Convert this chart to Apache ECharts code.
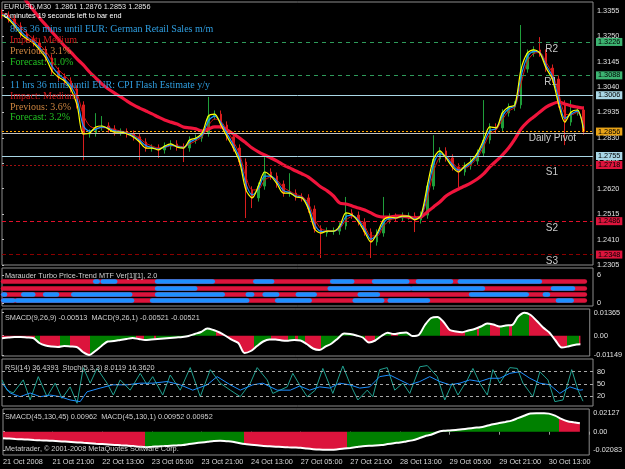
<!DOCTYPE html>
<html><head><meta charset="utf-8">
<script src="https://cdn.jsdelivr.net/npm/echarts@6/dist/echarts.min.js"></script>
<style>html,body{margin:0;padding:0;background:#000;}#c{width:625px;height:469px;}</style>
</head><body><div id="c"></div>
<script>
// ---------------- DATA ----------------
const timeTicks = ['21 Oct 2008','21 Oct 21:00','22 Oct 13:00','23 Oct 05:00','23 Oct 21:00','24 Oct 13:00','27 Oct 05:00','27 Oct 21:00','28 Oct 13:00','29 Oct 05:00','29 Oct 21:00','30 Oct 13:00'];
const priceTicks = [1.2305,1.2410,1.2515,1.2620,1.2725,1.2830,1.2935,1.3040,1.3145,1.3250,1.3355];

// 2-hour slots, EURUSD
const opens = [1.3345,1.3337,1.3321,1.3292,1.3259,1.3238,1.3222,1.3193,1.3160,1.3106,
 1.3081,1.3065,1.3032,1.2966,1.2846,1.2850,1.2875,1.2879,1.2867,1.2854,
 1.2854,1.2846,1.2834,1.2813,1.2788,1.2788,1.2780,1.2796,1.2805,1.2792,
 1.2788,1.2821,1.2829,1.2850,1.2920,1.2928,1.2883,1.2834,1.2788,1.2730,
 1.2615,1.2582,1.2631,1.2689,1.2672,1.2639,1.2602,1.2602,1.2586,1.2582,
 1.2536,1.2454,1.2437,1.2445,1.2445,1.2466,1.2520,1.2511,1.2483,1.2441,
 1.2400,1.2437,1.2491,1.2503,1.2499,1.2507,1.2507,1.2491,1.2511,1.2631,
 1.2743,1.2776,1.2747,1.2710,1.2689,1.2714,1.2734,1.2767,1.2821,1.2875,
 1.2871,1.2933,1.2957,1.2966,1.3114,1.3180,1.3193,1.3180,1.3118,1.3073,
 1.2970,1.2895,1.2937,1.2945];
const closes = [1.3337,1.3321,1.3292,1.3259,1.3238,1.3222,1.3193,1.3160,1.3106,1.3081,
 1.3065,1.3032,1.2966,1.2846,1.2850,1.2875,1.2879,1.2867,1.2854,1.2854,
 1.2846,1.2834,1.2813,1.2788,1.2788,1.2780,1.2796,1.2805,1.2792,1.2788,
 1.2821,1.2829,1.2850,1.2920,1.2928,1.2883,1.2834,1.2788,1.2730,1.2615,
 1.2582,1.2631,1.2689,1.2672,1.2639,1.2602,1.2602,1.2586,1.2582,1.2536,
 1.2454,1.2437,1.2445,1.2445,1.2466,1.2520,1.2511,1.2483,1.2441,1.2400,
 1.2437,1.2491,1.2503,1.2499,1.2507,1.2507,1.2491,1.2511,1.2631,1.2743,
 1.2776,1.2747,1.2710,1.2689,1.2714,1.2734,1.2767,1.2821,1.2875,1.2871,
 1.2933,1.2957,1.2966,1.3114,1.3180,1.3193,1.3180,1.3118,1.3073,1.2970,
 1.2895,1.2937,1.2945,1.2856];
const highs = [1.3360,1.3352,1.3336,1.3307,1.3274,1.3253,1.3237,1.3208,1.3175,1.3121,
 1.3096,1.3080,1.3047,1.2981,1.2865,1.2932,1.2920,1.2894,1.2882,1.2869,
 1.2869,1.2861,1.2849,1.2828,1.2803,1.2803,1.2811,1.2820,1.2820,1.2807,
 1.2836,1.2844,1.2865,1.2999,1.2943,1.2943,1.2898,1.2849,1.2803,1.2745,
 1.2630,1.2646,1.2750,1.2704,1.2687,1.2654,1.2684,1.2617,1.2601,1.2597,
 1.2551,1.2469,1.2460,1.2460,1.2481,1.2586,1.2535,1.2526,1.2498,1.2456,
 1.2452,1.2586,1.2518,1.2518,1.2522,1.2522,1.2522,1.2526,1.2646,1.2841,
 1.2791,1.2791,1.2762,1.2725,1.2729,1.2749,1.2782,1.2986,1.2890,1.2890,
 1.2948,1.2972,1.2981,1.3296,1.3195,1.3208,1.3246,1.3195,1.3133,1.3088,
 1.2985,1.2986,1.2960,1.2960];
const lows = [1.3322,1.3306,1.3277,1.3244,1.3223,1.3207,1.3178,1.3145,1.3091,1.3066,
 1.3050,1.3017,1.2951,1.2738,1.2831,1.2835,1.2860,1.2852,1.2839,1.2839,
 1.2831,1.2819,1.2738,1.2773,1.2773,1.2747,1.2765,1.2781,1.2777,1.2730,
 1.2773,1.2806,1.2814,1.2835,1.2905,1.2868,1.2819,1.2773,1.2715,1.2499,
 1.2540,1.2567,1.2616,1.2657,1.2624,1.2587,1.2587,1.2571,1.2567,1.2521,
 1.2439,1.2334,1.2422,1.2430,1.2430,1.2451,1.2496,1.2468,1.2426,1.2334,
 1.2385,1.2422,1.2476,1.2484,1.2484,1.2492,1.2441,1.2476,1.2496,1.2616,
 1.2728,1.2732,1.2695,1.2627,1.2674,1.2699,1.2719,1.2752,1.2806,1.2850,
 1.2856,1.2918,1.2942,1.2951,1.3099,1.3165,1.3165,1.3103,1.3058,1.2955,
 1.2800,1.2880,1.2922,1.2843];
const maYellow = [1.3337,1.3321,1.3292,1.3259,1.3238,1.3222,1.3193,1.3160,1.3106,1.3081,
 1.3065,1.3032,1.2966,1.2846,1.2850,1.2875,1.2879,1.2867,1.2854,1.2854,
 1.2846,1.2834,1.2813,1.2788,1.2788,1.2780,1.2796,1.2805,1.2792,1.2788,
 1.2821,1.2829,1.2850,1.2920,1.2928,1.2883,1.2834,1.2788,1.2730,1.2615,
 1.2582,1.2631,1.2689,1.2672,1.2639,1.2602,1.2602,1.2586,1.2582,1.2536,
 1.2454,1.2437,1.2445,1.2445,1.2466,1.2520,1.2511,1.2483,1.2441,1.2400,
 1.2437,1.2491,1.2503,1.2499,1.2507,1.2507,1.2491,1.2511,1.2631,1.2743,
 1.2776,1.2747,1.2710,1.2689,1.2714,1.2734,1.2767,1.2821,1.2875,1.2871,
 1.2933,1.2957,1.2966,1.3114,1.3180,1.3193,1.3180,1.3118,1.3073,1.2970,
 1.2895,1.2937,1.2945,1.2858];
const maBlue = [1.3340,1.3326,1.3300,1.3270,1.3246,1.3228,1.3202,1.3172,1.3125,1.3094,
 1.3072,1.3045,1.2990,1.2880,1.2858,1.2866,1.2874,1.2870,1.2859,1.2855,
 1.2849,1.2838,1.2820,1.2798,1.2790,1.2784,1.2792,1.2800,1.2795,1.2790,
 1.2812,1.2825,1.2842,1.2900,1.2920,1.2893,1.2847,1.2800,1.2745,1.2640,
 1.2595,1.2620,1.2672,1.2672,1.2648,1.2612,1.2604,1.2590,1.2584,1.2548,
 1.2472,1.2444,1.2444,1.2444,1.2460,1.2505,1.2510,1.2490,1.2452,1.2412,
 1.2430,1.2478,1.2498,1.2499,1.2505,1.2506,1.2495,1.2507,1.2605,1.2720,
 1.2765,1.2752,1.2720,1.2697,1.2708,1.2727,1.2758,1.2808,1.2860,1.2868,
 1.2920,1.2950,1.2962,1.3085,1.3165,1.3187,1.3182,1.3130,1.3085,1.2992,
 1.2910,1.2928,1.2940,1.2870];
const maRedThin = [1.3345,1.3335,1.3312,1.3285,1.3260,1.3240,1.3215,1.3188,1.3148,1.3112,
 1.3088,1.3060,1.3015,1.2925,1.2880,1.2870,1.2872,1.2872,1.2864,1.2858,
 1.2853,1.2843,1.2828,1.2808,1.2796,1.2788,1.2790,1.2797,1.2797,1.2793,
 1.2805,1.2818,1.2835,1.2880,1.2908,1.2898,1.2862,1.2815,1.2762,1.2670,
 1.2615,1.2617,1.2655,1.2668,1.2655,1.2625,1.2610,1.2596,1.2588,1.2560,
 1.2495,1.2455,1.2447,1.2445,1.2455,1.2490,1.2505,1.2495,1.2465,1.2425,
 1.2425,1.2465,1.2490,1.2497,1.2502,1.2505,1.2498,1.2504,1.2580,1.2690,
 1.2750,1.2755,1.2730,1.2705,1.2705,1.2720,1.2748,1.2793,1.2845,1.2862,
 1.2905,1.2940,1.2957,1.3055,1.3145,1.3178,1.3182,1.3142,1.3098,1.3015,
 1.2930,1.2925,1.2935,1.2885];
const maSlow = [1.3523,1.3490,1.3457,1.3424,1.3391,1.3358,1.3325,1.3296,1.3267,1.3238,
 1.3209,1.3184,1.3156,1.3131,1.3102,1.3077,1.3052,1.3032,1.3015,1.2999,
 1.2982,1.2966,1.2953,1.2941,1.2929,1.2916,1.2904,1.2895,1.2887,1.2875,
 1.2871,1.2867,1.2858,1.2867,1.2875,1.2875,1.2862,1.2846,1.2829,1.2809,
 1.2788,1.2772,1.2759,1.2747,1.2734,1.2718,1.2706,1.2693,1.2681,1.2668,
 1.2648,1.2627,1.2611,1.2590,1.2561,1.2557,1.2549,1.2540,1.2532,1.2520,
 1.2507,1.2503,1.2503,1.2507,1.2507,1.2503,1.2499,1.2503,1.2524,1.2545,
 1.2565,1.2590,1.2606,1.2619,1.2631,1.2644,1.2660,1.2681,1.2710,1.2734,
 1.2759,1.2788,1.2825,1.2867,1.2895,1.2916,1.2937,1.2957,1.2970,1.2978,
 1.2970,1.2962,1.2957,1.2953];

// horizontal levels
const levelValues = [1.3226,1.3088,1.3006,1.2856,1.2848,1.2755,1.2718,1.2486,1.2348];
const levelNames  = ['R2','R1','','Daily Pivot','','','S1','S2','S3'];
const levelBoxed  = [true,true,true,true,false,true,true,true,true];

// Marauder rows: blue intervals (time slots); the rest of each row is red
const marauderBlue = [
  [[14.9,15.3],[16.1,18.1],[24.8,33.7],[40.5,43.2],[52.8,56.0],[59.5,64.8],[66.5,71.8],[73.2,86.0]],
  [[24.8,30.9],[52.4,65.2],[65.7,76.9],[88.1,91.3]],
  [[0.2,0.5],[3.4,5.0],[6.9,8.8],[11.4,20.5],[24.8,35.3],[39.3,40.0],[42.0,44.0],[47.3,50.0],[57.2,60.1],[75.0,83.9],[86.8,87.3]],
  [[0.2,1.8],[2.4,20.8],[24.0,39.2],[44.0,49.2],[56.4,60.8],[62.0,68.1],[88.9,91.1]]
];
const marauderEnd = 93.2;

// SMACD(9,26,9)
const smacdFast = [-0.00154,-0.00107,-0.00077,-0.00077,-0.00107,-0.00137,-0.00434,-0.00582,-0.00642,-0.00671,
 -0.00612,-0.00642,-0.00671,-0.00968,-0.01149,-0.00909,-0.00612,-0.00345,-0.00315,-0.00255,
 -0.00196,-0.00137,-0.00196,-0.00255,-0.00226,-0.00196,-0.00166,-0.00137,-0.00107,-0.00077,
 -0.00018,0.00101,0.00220,0.00428,0.00339,0.00190,-0.00018,-0.00255,-0.00434,-0.01028,
 -0.00909,-0.00612,-0.00345,-0.00226,-0.00226,-0.00285,-0.00297,-0.00255,-0.00285,-0.00493,
 -0.00760,-0.00849,-0.00653,-0.00463,-0.00166,0.00131,0.00101,0.00012,-0.00107,-0.00404,
 -0.00285,-0.00018,0.00172,0.00101,0.00160,0.00190,-0.00018,0.00042,0.00636,0.01051,
 0.01111,0.00814,0.00339,0.00249,0.00208,0.00309,0.00398,0.00546,0.00725,0.00665,
 0.00546,0.00606,0.00636,0.01140,0.01365,0.01230,0.00873,0.00487,0.00190,-0.00285,
 -0.00701,-0.00642,-0.00552,-0.00513];
const smacdFastColors = [[-1,5.28,'r'],[5.28,6.08,'g'],[6.08,9.27,'r'],[9.27,10.87,'g'],[10.87,14.07,'r'],[14.07,21.59,'g'],[21.59,22.87,'r'],[22.87,24.46,'g'],[24.46,24.78,'r'],[24.78,34.38,'g'],[34.38,40.45,'r'],[40.45,43.33,'g'],[43.33,46.05,'r'],[46.05,47.17,'g'],[47.17,47.65,'r'],[47.65,48.77,'g'],[48.77,51.33,'r'],[51.33,58.36,'g'],[58.36,59.96,'r'],[59.96,62.52,'g'],[62.52,63.64,'r'],[63.64,70.35,'g'],[70.35,74.51,'r'],[74.51,76.43,'g'],[76.43,76.75,'r'],[76.75,78.51,'g'],[78.51,80.11,'r'],[80.11,81.55,'g'],[81.55,82.03,'r'],[82.03,84.74,'g'],[84.74,90.82,'r'],[90.82,92.74,'g'],[92.74,96,'r']];
const smacdFastTicks = [0.01365,0,-0.01149];
const smacdFastTickLabels = ['0.01365','0.00','-0.01149'];

// RSI(14) and Stoch(5,3,3)
const rsiTime = [0,1.3,2.9,4.5,6.1,7.7,9.3,10.9,12.5,13.6,15.7,17.7,20.0,22.1,24.1,26.4,28.5,30.5,32.8,34.4,36.5,38.1,40.1,41.7,44.0,46.1,47.6,49.2,50.8,52.4,54.0,55.6,57.2,58.8,60.4,62.0,63.6,65.2,66.8,68.4,70.0,71.6,73.2,74.8,76.4,78.0,79.6,81.2,82.8,84.4,86.0,87.6,89.2,90.8,92.4,92.9];
const rsiValues = [52,28,19,28,19,23,19,11,7,31,40,48,48,52,52,56,48,35,48,68,48,35,48,52,35,35,45,35,43,40,52,48,40,43,68,72,60,48,56,68,56,48,52,60,56,64,64,76,80,64,52,48,27,43,35,36];
const stochTime = [0,0.8,1.8,3.4,4.5,5.8,7.2,8.5,9.6,10.9,12.0,13.0,14.1,15.2,16.8,17.8,18.9,20.5,22.1,23.2,24.1,25.7,26.9,28.5,30.1,31.7,33.3,34.9,36.5,38.1,39.7,40.8,42.4,43.3,45.6,46.5,47.7,48.8,50.1,51.3,52.9,54.5,55.6,56.9,58.4,59.3,60.4,61.6,62.8,64.1,65.2,66.8,68.0,69.6,70.8,72.0,72.9,74.4,75.3,76.4,77.6,78.5,79.6,81.2,82.4,83.3,84.9,86.0,87.3,88.4,89.7,91.1,92.1,92.9];
const stochValues = [60,35,28,60,11,68,19,52,15,43,3,90,52,88,52,23,60,35,76,48,68,23,72,35,90,19,85,52,35,19,52,90,60,27,43,76,45,19,35,88,27,94,52,11,35,19,85,90,35,52,27,92,95,68,11,52,23,60,88,52,23,85,52,90,88,52,19,80,60,7,11,85,35,8];
const rsiTicks = [90,80,50,20,10];
const rsiLevels = [80,50,20];

// SMACD(45,130,45)
const smacdSlow = [-0.00759,-0.00794,-0.00840,-0.00874,-0.00909,-0.00955,-0.00989,-0.01012,-0.01047,-0.01093,
 -0.01139,-0.01185,-0.01231,-0.01277,-0.01323,-0.01380,-0.01426,-0.01472,-0.01518,-0.01564,
 -0.01599,-0.01645,-0.01725,-0.01783,-0.01737,-0.01691,-0.01656,-0.01610,-0.01576,-0.01530,
 -0.01415,-0.01323,-0.01242,-0.01162,-0.01081,-0.01035,-0.01093,-0.01150,-0.01300,-0.01426,
 -0.01495,-0.01564,-0.01633,-0.01679,-0.01725,-0.01760,-0.01794,-0.01817,-0.01852,-0.01944,
 -0.02013,-0.02059,-0.02082,-0.02083,-0.02024,-0.01944,-0.01863,-0.01771,-0.01679,-0.01622,
 -0.01587,-0.01530,-0.01426,-0.01323,-0.01231,-0.01116,-0.01001,-0.00782,-0.00518,-0.00357,
 -0.00058,0.00104,0.00150,0.00184,0.00276,0.00368,0.00449,0.00518,0.00679,0.00851,
 0.00989,0.01127,0.01277,0.01553,0.01829,0.02100,0.02127,0.02120,0.02080,0.01840,
 0.01484,0.01210,0.01080,0.00962];
const smacdSlowColors = [[-1,22.9,'r'],[22.9,38.9,'g'],[38.9,55.5,'r'],[55.5,89.7,'g'],[89.7,96,'r']];
const smacdSlowTicks = [0.02127,0,-0.02083];
const smacdSlowTickLabels = ['0.02127','0.00','-0.02083'];

// ---------------- CHART ----------------
const FONT = '"Liberation Sans", Arial, sans-serif';
const SERIF = '"Liberation Serif", "Times New Roman", serif';
const FS = 7.3;
const GREEN = '#008000', RED = '#dc143c', BLUE = '#1e90ff';
const grids = [
  {top:2, height:263}, {top:268, height:38}, {top:309, height:47}, {top:359, height:47}, {top:409, height:46}
].map(g => Object.assign({left:2, right:32, show:true, borderColor:'#8c8c8c', borderWidth:1, backgroundColor:'transparent'}, g));

const xAxes = grids.map((g, i) => ({
  type:'value', gridIndex:i, min:0, max:94.5, interval:8,
  axisLine:{show:false}, splitLine:{show:false},
  axisTick:{show:i===4, length:3, lineStyle:{color:'#9a9a9a'}},
  axisLabel:{show:i===4, color:'#d8d8d8', fontSize:FS, fontFamily:FONT, align:'left', margin:3,
    formatter: v => timeTicks[Math.round(v/8)] || ''}
}));

function yAxis(i, min, max, ticks, fmt) {
  return {type:'value', gridIndex:i, position:'right', min, max,
    axisLine:{show:false}, splitLine:{show:false},
    axisTick:{show:true, length:2, inside:false, customValues:ticks, lineStyle:{color:'#bdbdbd'}},
    axisLabel:{show:true, customValues:ticks, color:'#e0e0e0', fontSize:FS, fontFamily:FONT, margin:4, formatter:fmt}};
}
const pick = (ticks, labels) => v => { let k = 0, d = 1e9; ticks.forEach((t, j) => { if (Math.abs(t - v) < d) { d = Math.abs(t - v); k = j; } }); return labels[k]; };
const yAxes = [
  yAxis(0, 1.2305, 1.3391, priceTicks, v => v.toFixed(4)),
  yAxis(1, -0.64, 7.5, [6,0], v => String(Math.round(v))),
  yAxis(2, -0.01206, 0.01586, smacdFastTicks, pick(smacdFastTicks, smacdFastTickLabels)),
  yAxis(3, -3.7, 111, rsiTicks, v => String(Math.round(v))),
  yAxis(4, -0.0268, 0.0261, smacdSlowTicks, pick(smacdSlowTicks, smacdSlowTickLabels))
];

const idx = arr => arr.map((v, i) => [i, v]);
const pairs = (t, v) => t.map((x, i) => [x, v[i]]);

// level line styles
const levelStyle = [
  {c:'#2e9a5a', t:[4,4], box:'#3cb371'},
  {c:'#2e9a5a', t:[4,4], box:'#3cb371'},
  {c:'#a9d6e5', t:'solid', box:'#a9d6e5'},
  {c:'#ffa500', t:[2,2], box:'#e8a317'},
  {c:'#bfbfbf', t:'solid', box:null},
  {c:'#a9d6e5', t:'solid', box:'#a9d6e5'},
  {c:'#a01010', t:[2,2], box:RED},
  {c:'#e0102a', t:[4,3], box:RED},
  {c:'#8b0000', t:[4,3], box:RED}
];
const levelNameDist = {'R2':35,'R1':36,'Daily Pivot':17,'S1':35,'S2':35,'S3':35};
const markData = [];
levelValues.forEach((v, k) => {
  const s = levelStyle[k];
  markData.push({yAxis:v, lineStyle:{color:s.c, type:s.t, width:1},
    label: levelBoxed[k] ? {show:true, position:'end', distance:3, formatter:v.toFixed(4), color:'#000', backgroundColor:s.box, padding:[1,2,0,2], fontSize:FS, fontFamily:FONT} : {show:false}});
  if (levelNames[k]) markData.push({yAxis:v, lineStyle:{color:'rgba(0,0,0,0)', width:0.01, opacity:1},
    label:{show:true, position:'insideEndBottom', distance:[levelNameDist[levelNames[k]], 2], formatter:levelNames[k], color:'#c8c8c8', opacity:1, fontSize:10, fontFamily:FONT}});
});

const marauderLevels = [4.7, 3.2, 1.9, 0.65];
const marauderRed = marauderLevels.map(l => ({coords:[[0.15,l],[marauderEnd,l]]}));
const marauderBlueData = [];
marauderBlue.forEach((row, r) => row.forEach(seg => marauderBlueData.push({coords:[[seg[0], marauderLevels[r]],[seg[1], marauderLevels[r]]]})));

const pieces = list => list.map(p => ({gte:p[0], lt:p[1], color: p[2] === 'g' ? GREEN : RED}));

const series = [
  {type:'candlestick', xAxisIndex:0, yAxisIndex:0, barWidth:2,
   data: closes.map((c, i) => [i, opens[i], c, lows[i], highs[i]]),
   itemStyle:{color:'#1f9e3a', color0:'#d81e1e', borderColor:'#1f9e3a', borderColor0:'#d81e1e', borderWidth:1},
   markLine:{silent:true, precision:5, symbol:['none','none'], animation:false, data:markData}, z:2},
  {type:'line', xAxisIndex:0, yAxisIndex:0, data:idx(maSlow), showSymbol:false, smooth:0.3, lineStyle:{color:'#f0143c', width:3.2}, z:3},
  {type:'line', xAxisIndex:0, yAxisIndex:0, data:idx(maRedThin), showSymbol:false, smooth:0.3, lineStyle:{color:'#e01010', width:1}, z:4},
  {type:'line', xAxisIndex:0, yAxisIndex:0, data:idx(maBlue), showSymbol:false, smooth:0.3, lineStyle:{color:'#1e90ff', width:1.2}, z:5},
  {type:'line', xAxisIndex:0, yAxisIndex:0, data:idx(maYellow), showSymbol:false, smooth:0.3, lineStyle:{color:'#ffff00', width:1.2}, z:6},
  // Marauder
  {type:'lines', coordinateSystem:'cartesian2d', xAxisIndex:1, yAxisIndex:1, data:marauderRed, lineStyle:{color:RED, width:4.5, cap:'round', opacity:1}, z:2},
  {type:'lines', coordinateSystem:'cartesian2d', xAxisIndex:1, yAxisIndex:1, data:marauderBlueData, lineStyle:{color:BLUE, width:4.5, cap:'round', opacity:1}, z:3},
  // SMACD fast (index 7 area, 8 line)
  {type:'line', xAxisIndex:2, yAxisIndex:2, data:idx(smacdFast), showSymbol:false, smooth:0.3, lineStyle:{width:0, opacity:0}, areaStyle:{opacity:1}, z:2},
  {type:'line', xAxisIndex:2, yAxisIndex:2, data:idx(smacdFast), showSymbol:false, smooth:0.3, lineStyle:{color:'#ffffff', width:2}, z:3},
  // RSI / Stoch
  {type:'line', xAxisIndex:3, yAxisIndex:3, data:pairs(stochTime, stochValues), showSymbol:false, lineStyle:{color:'#20a090', width:1}, z:3,
   markLine:{silent:true, precision:2, symbol:['none','none'], animation:false, label:{show:false}, lineStyle:{color:'#a8a8a8', type:[3,3], width:1}, data:rsiLevels.map(v => ({yAxis:v}))}},
  {type:'line', xAxisIndex:3, yAxisIndex:3, data:pairs(rsiTime, rsiValues), showSymbol:false, lineStyle:{color:'#1e90ff', width:1}, z:4},
  // SMACD slow (index 11 area, 12 line)
  {type:'line', xAxisIndex:4, yAxisIndex:4, data:idx(smacdSlow), showSymbol:false, smooth:0.3, lineStyle:{width:0, opacity:0}, areaStyle:{opacity:1}, z:2},
  {type:'line', xAxisIndex:4, yAxisIndex:4, data:idx(smacdSlow), showSymbol:false, smooth:0.3, lineStyle:{color:'#ffffff', width:2}, z:3}
];

const txt = (text, x, y, color, size, family) => ({type:'text', x, y, z:100, silent:true,
  style:{text, fill:color, fontSize:size, fontFamily:family, textVerticalAlign:'middle', verticalAlign:'middle'}});
const graphic = [
  txt('EURUSD,M30  1.2861 1.2876 1.2853 1.2856', 4, 6.7, '#e6e6e6', FS, FONT),
  txt('6 minutes 19 seconds left to bar end', 4, 15.7, '#ffffff', FS, FONT),
  txt('8hrs 36 mins until EUR: German Retail Sales m/m', 10, 29.3, '#2f9ee0', 10, SERIF),
  txt('Impact: Medium', 10, 40.7, '#d01818', 10, SERIF),
  txt('Previous: 3.1%', 10, 51.7, '#cd853f', 10, SERIF),
  txt('Forecast: -1.0%', 10, 62.3, '#22c022', 10, SERIF),
  txt('11 hrs 36 mins until EUR: CPI Flash Estimate y/y', 10, 85.7, '#2f9ee0', 10, SERIF),
  txt('Impact: Medium', 10, 96.7, '#d01818', 10, SERIF),
  txt('Previous: 3.6%', 10, 107.7, '#cd853f', 10, SERIF),
  txt('Forecast: 3.2%', 10, 117.7, '#22c022', 10, SERIF),
  txt('Marauder Turbo Price-Trend MTF Ver[1][1], 2.0', 5, 276, '#d0d0d0', FS, FONT),
  txt('SMACD(9,26,9) -0.00513  MACD(9,26,1) -0.00521 -0.00521', 5, 317.7, '#d0d0d0', FS, FONT),
  txt('RSI(14) 36.4393  Stoch(5,3,3) 8.0119 16.3620', 5, 368, '#d0d0d0', FS, FONT),
  txt('SMACD(45,130,45) 0.00962  MACD(45,130,1) 0.00952 0.00952', 5, 416.7, '#d0d0d0', FS, FONT),
  txt('Metatrader, \u00a9 2001-2008 MetaQuotes Software Corp.', 5, 449.3, '#d0d0d0', FS, FONT)
];

const chart = echarts.init(document.getElementById('c'), null, {renderer:'canvas'});
chart.setOption({
  backgroundColor:'#000', animation:false,
  grid:grids, xAxis:xAxes, yAxis:yAxes,
  visualMap:[
    {type:'piecewise', show:false, dimension:0, seriesIndex:7, pieces:pieces(smacdFastColors)},
    {type:'piecewise', show:false, dimension:0, seriesIndex:11, pieces:pieces(smacdSlowColors)}
  ],
  series, graphic
});
</script></body></html>
